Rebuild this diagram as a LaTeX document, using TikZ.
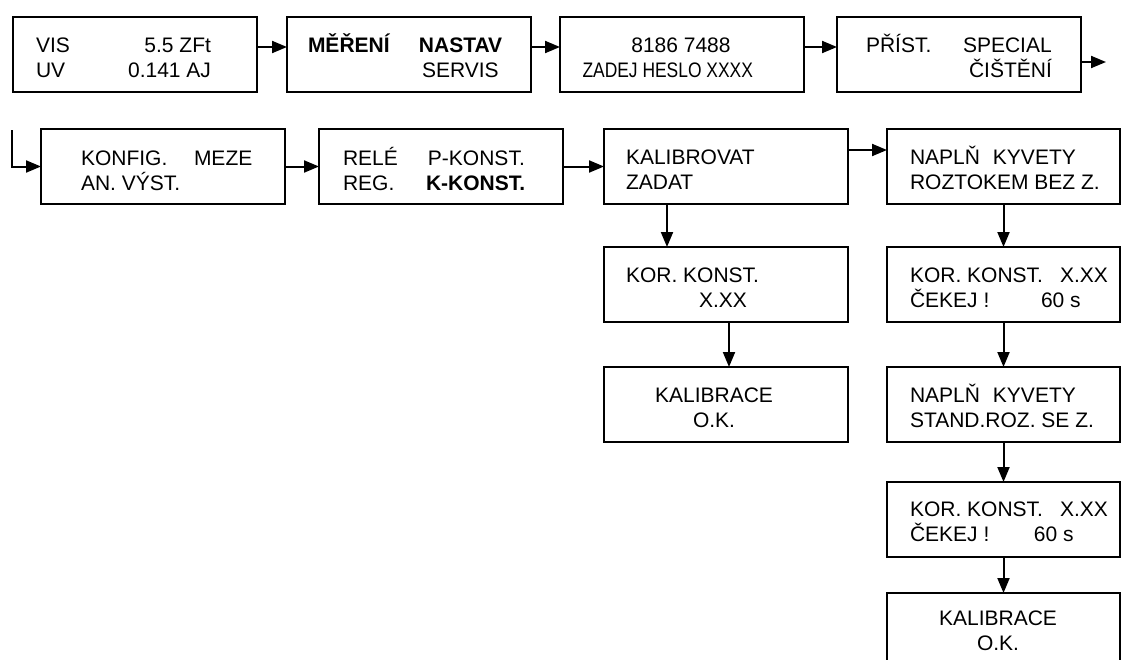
\documentclass[tikz,border=0pt]{standalone}
\usepackage{fontspec}
\setmainfont{Liberation Sans}
\usepackage{graphicx}
\usetikzlibrary{arrows.meta}
\newcommand{\lcdcol}[2]{\makebox[#1][l]{#2}}

\begin{document}
\begin{tikzpicture}[x=1pt,y=-1pt,>={Triangle[length=15pt,width=12pt]},line width=2pt,
  lcd/.style={draw,rectangle,anchor=north west,inner sep=0pt,outer sep=0pt,minimum width=244pt,minimum height=75pt},
  narrow lcd/.style={lcd,minimum width=233pt},
  lcd text/.style={anchor=base west,inner sep=0pt,align=left,font=\fontsize{21}{25}\selectfont},
  lcd centre/.style={lcd text,anchor=base,align=center}]
\useasboundingbox (0,0) rectangle (1121,659);
\clip (0,0) rectangle (1121,659);

% first row (text placed at the baseline of its lower line)
\node[lcd] (vis) at (13,17) {};
\node[lcd] (menu) at (287,17) {};
\node[lcd] (heslo) at (560,17) {};
\node[lcd] (prist) at (837,17) {};
\node[lcd text] (vistxt) at (35,77) {\makebox[175pt]{VIS\hfill 5.5 ZFt}\\\makebox[175pt]{UV\hfill 0.141 AJ}};
\node[lcd text] (menutxt) at (307,77) {\lcdcol{111pt}{\textbf{MĚŘENÍ}}\textbf{NASTAV}\\\hspace*{114pt}SERVIS};
\node[lcd centre] (heslotxt) at (681,77) {8186 7488\\\lcdcol{197pt}{\scalebox{0.83}[1]{ZADEJ HESLO XXXX}}};
\node[lcd text] (pristtxt) at (865,77) {\lcdcol{97pt}{PŘÍST.}SPECIAL\\\hspace*{103pt}ČIŠTĚNÍ};
\coordinate (next) at (1106,62);

\draw[->] ([yshift=7.5pt]vis.east) -- ([yshift=7.5pt]menu.west);
\draw[->] ([yshift=7.5pt]menu.east) -- ([yshift=7.5pt]heslo.west);
\draw[->] ([yshift=7.5pt]heslo.east) -- ([yshift=7.5pt]prist.west);
\draw[->] (prist.east |- next) -- (next);

% second row
\node[lcd] (konfig) at (41,129) {};
\node[lcd] (rele) at (319,129) {};
\node[lcd] (kalib) at (604,129) {};
\node[narrow lcd] (naplna) at (887,129) {};
\node[lcd text] (konfigtxt) at (80,190) {\lcdcol{113pt}{KONFIG.}MEZE\\AN. VÝST.};
\node[lcd text] (reletxt) at (342,190) {\lcdcol{85pt}{RELÉ}P-KONST.\\\lcdcol{83pt}{REG.}\textbf{K-KONST.}};
\node[lcd text] (kalibtxt) at (625,189) {KALIBROVAT\\ZADAT};
\node[lcd text] (naplnatxt) at (909,189) {\lcdcol{83pt}{NAPLŇ}KYVETY\\ROZTOKEM BEZ Z.};
\coordinate (back) at (12,130);

\draw[->] (back) |- (konfig.west);
\draw[->] (konfig.east) -- (rele.west);
\draw[->] (rele.east) -- (kalib.west);
\draw[->] ([yshift=16.5pt]kalib.east) -- ([yshift=16.5pt]naplna.west);

% zadat column
\node[lcd] (korkonst) at (604,247) {};
\node[lcd] (kalok) at (604,367) {};
\node[lcd text] (korkonsttxt) at (625,307) {KOR. KONST.\\\hspace*{73pt}X.XX};
\node[lcd centre] (kaloktxt) at (714,427) {KALIBRACE\\O.K.};

\draw[->] ([xshift=-59pt]kalib.south) -- ([xshift=-59pt]korkonst.north);
\draw[->] ([xshift=3pt]korkonst.south) -- ([xshift=3pt]kalok.north);

% kalibrovat column
\node[narrow lcd] (cekeja) at (887,247) {};
\node[narrow lcd] (naplnb) at (887,367) {};
\node[narrow lcd] (cekejb) at (887,482) {};
\node[narrow lcd] (kalokb) at (887,593) {};
\node[lcd text] (cekejatxt) at (909,307) {\lcdcol{150pt}{KOR. KONST.}X.XX\\\lcdcol{131pt}{ČEKEJ !}60 s};
\node[lcd text] (naplnbtxt) at (909,427) {\lcdcol{83pt}{NAPLŇ}KYVETY\\STAND.ROZ. SE Z.};
\node[lcd text] (cekejbtxt) at (909,541) {\lcdcol{150pt}{KOR. KONST.}X.XX\\\lcdcol{124pt}{ČEKEJ !}60 s};
\node[lcd centre] (kalokbtxt) at (998,650) {KALIBRACE\\O.K.};

\draw[->] (naplna) -- (cekeja);
\draw[->] (cekeja) -- (naplnb);
\draw[->] (naplnb) -- (cekejb);
\draw[->] (cekejb) -- (kalokb);
\end{tikzpicture}
\end{document}
